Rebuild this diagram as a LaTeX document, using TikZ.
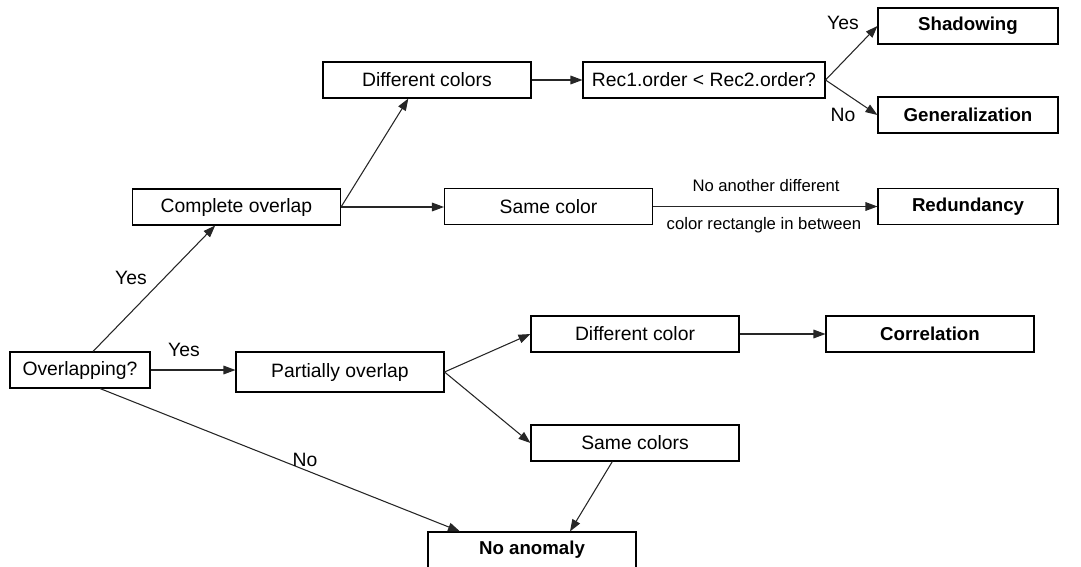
\documentclass[tikz,border=0pt]{standalone}
\usepackage{fontspec}
\setmainfont{Liberation Sans}
\usetikzlibrary{arrows.meta,calc,positioning}
\tikzset{
  box/.style={draw=black, line width=0.8pt, inner sep=0pt,
    minimum width=156pt, minimum height=27pt, font=\fontsize{14.5}{16}\selectfont},
  result box/.style={box, minimum width=135pt, font=\fontsize{14}{16}\selectfont\bfseries},
  flow arrow/.style={black!85, line width=0.8pt,
    -{Triangle[length=9pt,width=6.5pt]}},
  branch label/.style={font=\fontsize{14.5}{16}\selectfont, inner sep=1pt},
  note label/.style={font=\fontsize{12.5}{14}\selectfont, inner sep=1pt}
}

\begin{document}
\begin{tikzpicture}[x=0.75pt,y=-0.75pt]

  \useasboundingbox (0,0) rectangle (1081,567);

  % Decision and intermediate boxes.
  \node[box, minimum width=105pt] (overlap) at (80,370) {Overlapping?};
  \node[box, minimum height=30pt] (partial) at (340,372) {Partially overlap};
  \node[box] (complete) at (236.5,207) {Complete overlap};
  \node[box] (samecolor) at (548.5,206.5) {Same color};
  \node[box] (diffcolors) at (427,80) {Different colors};
  \node[box, minimum width=181.5pt] (order) at (704,80) {Rec1.order < Rec2.order?};
  \node[box] (diffcolor) at (635,334) {Different color};
  \node[box] (samecolors) at (635,443) {Same colors};

  % Outcomes.
  \node[result box] (shadow) at (968,26) {Shadowing};
  \node[result box] (general) at (968,115) {Generalization};
  \node[result box] (redund) at (968,206.5) {Redundancy};
  \node[result box, minimum width=156pt] (correl) at (930,334) {Correlation};
  \node[result box, minimum width=156pt] (noanom) at (532,550) {No anomaly};

  % Connectors from the first decision.
  \draw[flow arrow] ([xshift=9.75pt]overlap.north) -- ([xshift=-16pt]complete.south);
  \draw[flow arrow] (overlap.east) -- (overlap.east -| partial.west);
  \draw[flow arrow] ([xshift=15pt]overlap.south) -- ([xshift=-54pt]noanom.north);
  \node[branch label] (yesA) at (131,278) {Yes};
  \node[branch label] (yesB) at (184,350) {Yes};
  \node[branch label] (noA) at (305,460) {No};

  % Complete overlap branch.
  \draw[flow arrow] (complete.east) -- ([xshift=-14pt]diffcolors.south);
  \draw[flow arrow] (complete.east) -- (complete.east -| samecolor.west);
  \draw[flow arrow] (diffcolors.east) -- (order.west);
  \draw[flow arrow] (order.east) -- (shadow.west);
  \draw[flow arrow] (order.east) -- (general.west);
  \node[branch label] (yesC) at (843,23) {Yes};
  \node[branch label] (noB) at (843,115) {No};
  \draw[flow arrow] (samecolor.east) -- (redund.west);
  \node[note label] (noteA) at (766,186) {No another different};
  \node[note label] (noteB) at (764,225) {color rectangle in between};

  % Partial overlap branch.
  \draw[flow arrow] (partial.east) -- (diffcolor.west);
  \draw[flow arrow] (partial.east) -- (samecolors.west);
  \draw[flow arrow] (diffcolor.east) -- (correl.west);
  \draw[flow arrow] ([xshift=-17pt]samecolors.south) -- ([xshift=28.5pt]noanom.north);

\end{tikzpicture}
\end{document}
